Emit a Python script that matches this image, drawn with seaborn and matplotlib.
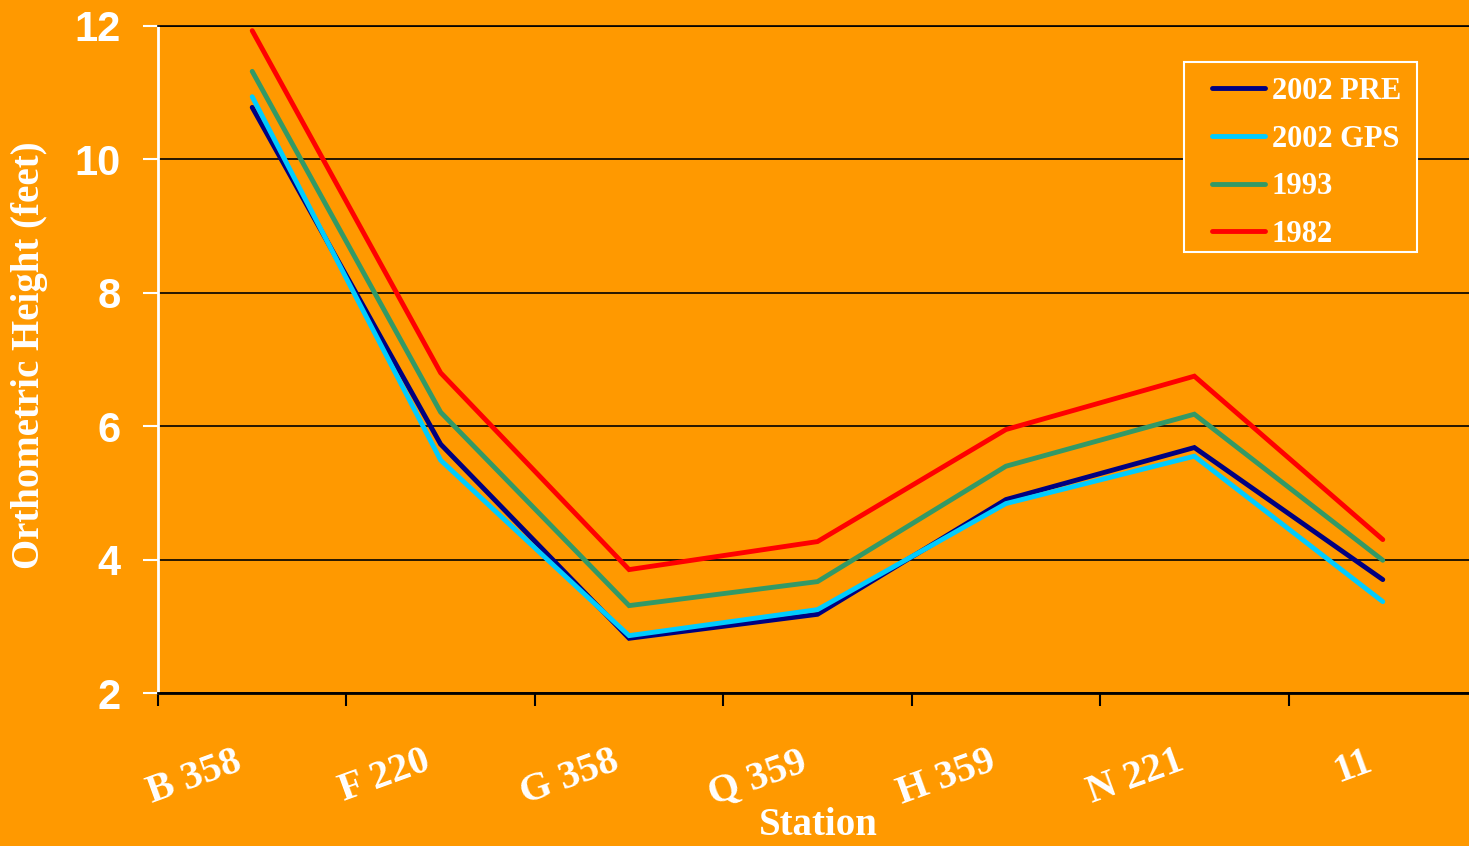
import numpy as np
import pandas as pd
import matplotlib
matplotlib.use("Agg")
import matplotlib.pyplot as plt
from matplotlib.patches import Rectangle
import seaborn as sns

# Orthometric heights of benchmarks, several survey epochs

stations = ["B 358", "F 220", "G 358", "Q 359", "H 359", "N 221", "11"]
pre_2002 = [10.78, 5.73, 2.82, 3.18, 4.90, 5.68, 3.70]
gps_2002 = [10.94, 5.49, 2.86, 3.25, 4.84, 5.55, 3.37]
y_1993 = [11.32, 6.21, 3.31, 3.67, 5.40, 6.18, 3.99]
y_1982 = [11.93, 6.80, 3.85, 4.27, 5.95, 6.75, 4.30]

series_names = ["2002 PRE", "2002 GPS", "1993", "1982"]
colors = ["#000080", "#00CCFF", "#339966", "#FF0000"]
bg = "#FF9900"

# long table for seaborn
pos = np.arange(len(stations))
frames = []
for name, vals in zip(series_names, [pre_2002, gps_2002, y_1993, y_1982]):
    frames.append(pd.DataFrame({"pos": pos, "station": stations,
                                "height": vals, "series": name}))
df = pd.concat(frames, ignore_index=True)

sns.set_style("ticks")
plt.rcParams["font.family"] = ["Liberation Serif", "DejaVu Serif"]

fig = plt.figure(figsize=(14.69, 8.46), dpi=100, facecolor=bg)
ax = fig.add_axes([158 / 1469, 1 - 693 / 846, 1319 / 1469, 667 / 846])
ax.set_facecolor(bg)

sns.lineplot(data=df, x="pos", y="height", hue="series", hue_order=series_names,
             palette=colors, linewidth=3.5, sort=False, ax=ax,
             solid_capstyle="round", solid_joinstyle="miter")

ax.set_xlim(-0.5, len(stations) - 0.5)
ax.set_ylim(2, 12)
ax.set_yticks(np.arange(2, 13, 2))
ax.yaxis.grid(True, color="black", linewidth=1.2)
ax.set_axisbelow(True)

# tick marks at category boundaries (Excel style), labels drawn below
ax.set_xticks(np.arange(-0.5, len(stations) + 0.5, 1))
ax.set_xticklabels([])
ax.tick_params(axis="x", length=9, width=1.5, color="black", direction="out")
for p, name in zip(pos, stations):
    ax.annotate(name, xy=(p, 0), xycoords=("data", "axes fraction"),
                xytext=(-13, -36), textcoords="offset points",
                rotation=20, ha="right", va="top", rotation_mode="anchor",
                fontsize=29, fontweight="bold", color="white",
                annotation_clip=False)

ax.tick_params(axis="y", length=11, width=1.5, color="white", pad=16)
for lab in ax.get_yticklabels():
    lab.set_fontfamily(["Liberation Sans", "DejaVu Sans"])
    lab.set_fontsize(30)
    lab.set_fontweight("bold")
    lab.set_color("white")

ax.spines["right"].set_visible(False)
ax.spines["top"].set_color("black")
ax.spines["top"].set_linewidth(1.2)
ax.spines["left"].set_color("white")
ax.spines["left"].set_linewidth(2)
ax.spines["bottom"].set_color("black")
ax.spines["bottom"].set_linewidth(2)

ax.set_xlabel("")
ax.set_ylabel("")
fig.text(30 / 1469, 1 - 355 / 846, "Orthometric Height (feet)", rotation=90,
         ha="center", va="center", fontsize=28, fontweight="bold", color="white")
fig.text(818 / 1469, 1 - 825 / 846, "Station", ha="center", va="center",
         fontsize=28, fontweight="bold", color="white")

# legend box drawn separately so its padding can match the original
ax.add_patch(Rectangle((1184 / 1469, 1 - 252 / 846), 233 / 1469, 190 / 846,
                       transform=fig.transFigure, facecolor=bg,
                       edgecolor="white", linewidth=1.5, zorder=3,
                       clip_on=False))
leg = ax.legend(loc="upper left", bbox_to_anchor=(1212 / 1469, 1 - 77 / 846),
                bbox_transform=fig.transFigure, borderaxespad=0, frameon=False,
                fontsize=22, handlelength=1.75, handletextpad=0.2,
                labelspacing=0.61, borderpad=0)
leg.set_zorder(5)
for t in leg.get_texts():
    t.set_color("white")
    t.set_fontweight("bold")
for h in leg.get_lines():
    h.set_linewidth(3.5)
    h.set_solid_capstyle("round")

fig.savefig("out.png", dpi=100, facecolor=bg)
